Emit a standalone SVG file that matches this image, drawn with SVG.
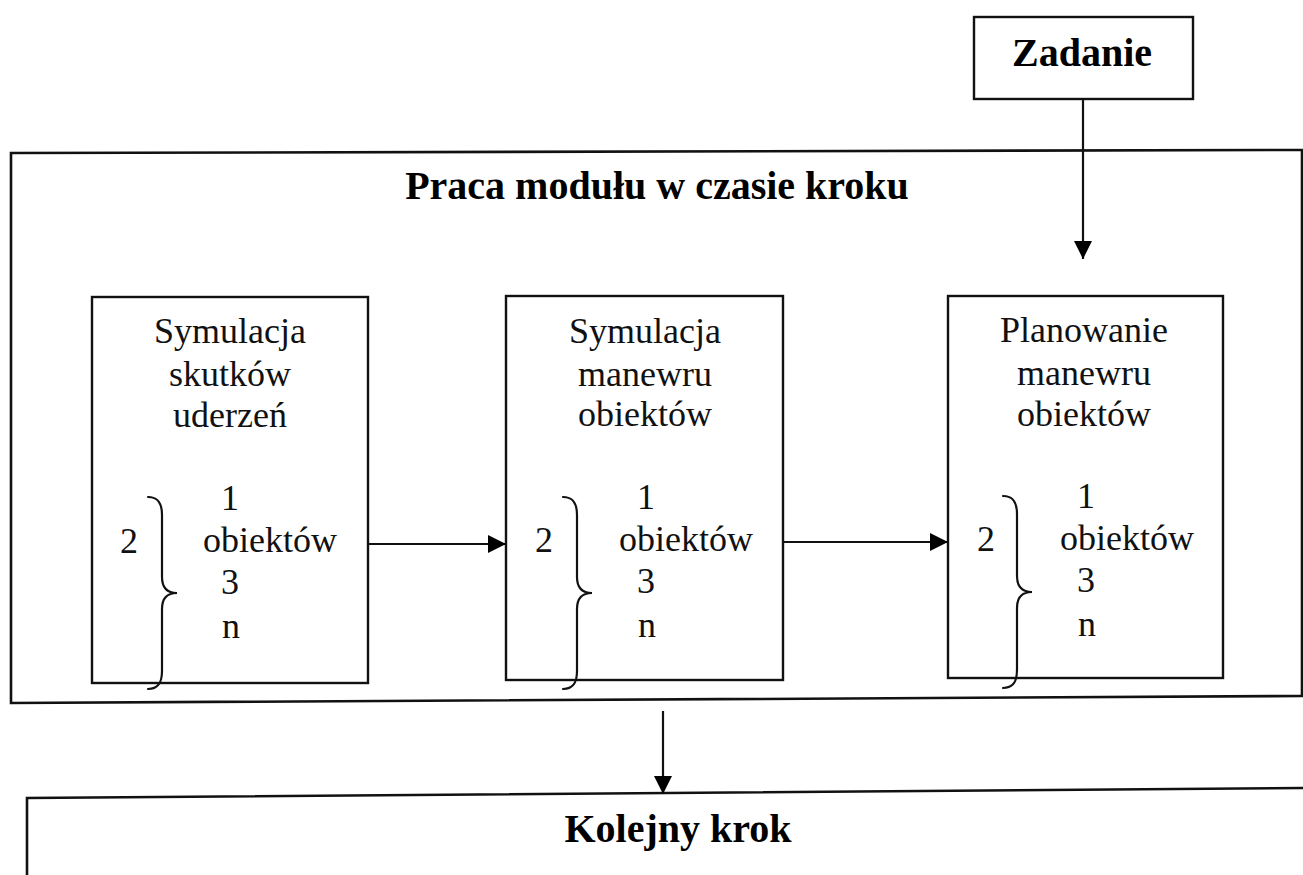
<svg xmlns="http://www.w3.org/2000/svg" xmlns:xlink="http://www.w3.org/1999/xlink" width="1303" height="875" viewBox="0 0 1303 875">
  <style>
    .frame { fill: none; stroke: #111; stroke-width: 2.6; }
    .box { fill: #fff; stroke: #111; stroke-width: 2.4; }
    .wire { fill: none; stroke: #111; stroke-width: 2.2; }
    .brace { fill: none; stroke: #111; stroke-width: 2.2; stroke-linecap: round; }
    text { font-family: 'Liberation Serif', 'DejaVu Serif', serif; }
    .head { font-weight: bold; font-size: 40px; fill: #000; text-anchor: middle; }
    .lbl { font-size: 36px; fill: #111; text-anchor: middle; }
    .lst { font-size: 36px; fill: #111; }
  </style>
  <defs>
    <marker id="arrowBig" viewBox="0 0 10 10" refX="10" refY="5" markerWidth="18" markerHeight="18" markerUnits="userSpaceOnUse" orient="auto">
      <path d="M0,0 L10,5 L0,10 Z" fill="#000"/>
    </marker>
    <!-- curly brace, origin at its upper end -->
    <path id="curly" class="brace" d="M0,0 C10,0 14,6 14,18 L14,80 C14,90 19,96 29,96 C19,96 14,102 14,112 L14,174 C14,186 10,192 0,192"/>
  </defs>

  <rect width="1303" height="875" fill="#fff"/>

  <!-- task input -->
  <g id="zadanie">
    <rect class="box" x="974" y="17" width="219" height="82"/>
    <text class="head" x="1082" y="66">Zadanie</text>
  </g>

  <!-- module work frame -->
  <g id="praca">
    <path class="frame" d="M11,153 L1302,150 L1302,696 L11,703 Z"/>
    <text class="head" x="657" y="199">Praca modułu w czasie kroku</text>
  </g>

  <g id="sym-uderzen">
    <rect class="box" x="92" y="297" width="276" height="386"/>
    <text class="lbl" x="230" y="343">Symulacja</text>
    <text class="lbl" x="230" y="386">skutków</text>
    <text class="lbl" x="230" y="427">uderzeń</text>
    <text class="lbl" x="129" y="553">2</text>
    <use xlink:href="#curly" x="148" y="497"/>
    <text class="lbl" x="230" y="510">1</text>
    <text class="lst" x="203" y="552">obiektów</text>
    <text class="lbl" x="230" y="594">3</text>
    <text class="lbl" x="231" y="638">n</text>
  </g>

  <g id="sym-manewru">
    <rect class="box" x="506" y="296" width="277" height="384"/>
    <text class="lbl" x="645" y="343">Symulacja</text>
    <text class="lbl" x="645" y="386">manewru</text>
    <text class="lbl" x="645" y="426">obiektów</text>
    <text class="lbl" x="544" y="552">2</text>
    <use xlink:href="#curly" x="563" y="497"/>
    <text class="lbl" x="646" y="509">1</text>
    <text class="lst" x="619" y="551">obiektów</text>
    <text class="lbl" x="646" y="593">3</text>
    <text class="lbl" x="647" y="637">n</text>
  </g>

  <g id="plan-manewru">
    <rect class="box" x="948" y="296" width="275" height="382"/>
    <text class="lbl" x="1084" y="342">Planowanie</text>
    <text class="lbl" x="1084" y="385">manewru</text>
    <text class="lbl" x="1084" y="426">obiektów</text>
    <text class="lbl" x="986" y="551">2</text>
    <use xlink:href="#curly" x="1003" y="496"/>
    <text class="lbl" x="1086" y="508">1</text>
    <text class="lst" x="1060" y="550">obiektów</text>
    <text class="lbl" x="1086" y="592">3</text>
    <text class="lbl" x="1087" y="636">n</text>
  </g>

  <!-- next step -->
  <g id="kolejny">
    <path class="frame" d="M27,875 L27,798 L1303,788"/>
    <text class="head" x="678" y="842">Kolejny krok</text>
  </g>

  <g id="connectors">
    <line class="wire" x1="1083" y1="99" x2="1083" y2="259" marker-end="url(#arrowBig)"/>
    <line class="wire" x1="368" y1="544" x2="506" y2="544" marker-end="url(#arrowBig)"/>
    <line class="wire" x1="783" y1="542" x2="948" y2="542" marker-end="url(#arrowBig)"/>
    <line class="wire" x1="663" y1="711" x2="663" y2="794" marker-end="url(#arrowBig)"/>
  </g>
</svg>
